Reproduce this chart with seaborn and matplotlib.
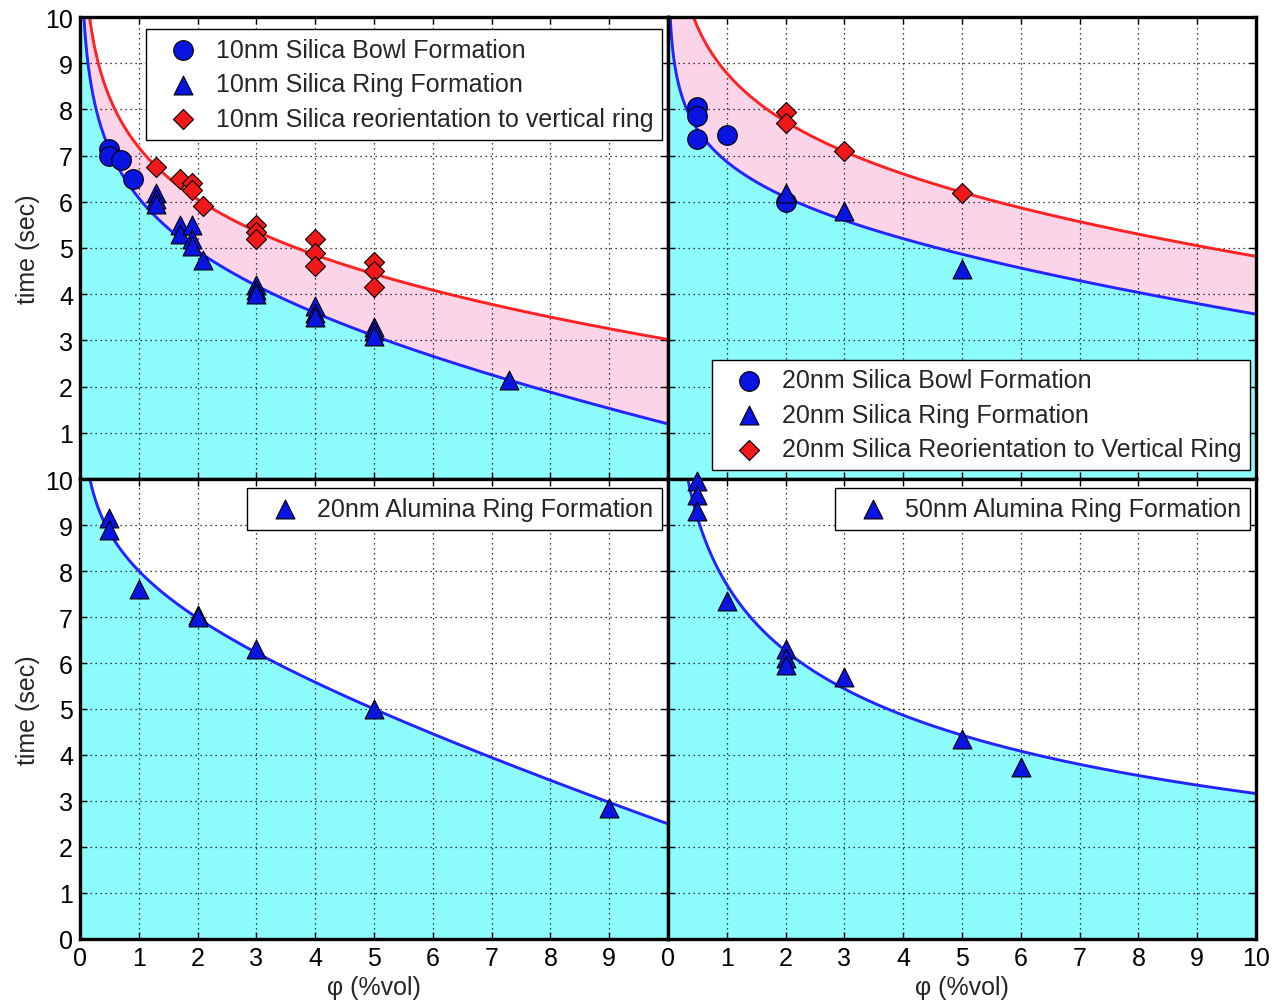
import numpy as np
import pandas as pd
import matplotlib
matplotlib.use("Agg")
import matplotlib.pyplot as plt
import seaborn as sns

# ---------------------------------------------------------------- data
# 10 nm silica
S10_BOWL_PHI = [0.5, 0.5, 0.7, 0.9]
S10_BOWL_T = [7.15, 7.0, 6.9, 6.5]
S10_RING_PHI = [1.3, 1.3, 1.3, 1.7, 1.7, 1.9, 1.9, 1.9, 2.1,
                3, 3, 3, 4, 4, 4, 5, 5, 5, 7.3]
S10_RING_T = [6.2, 6.05, 5.95, 5.5, 5.3, 5.5, 5.2, 5.05, 4.75,
              4.2, 4.1, 4.0, 3.75, 3.6, 3.5, 3.3, 3.2, 3.1, 2.15]
S10_REOR_PHI = [1.3, 1.7, 1.9, 1.9, 2.1, 3, 3, 3, 4, 4, 4, 5, 5, 5]
S10_REOR_T = [6.75, 6.5, 6.4, 6.25, 5.9, 5.5, 5.35, 5.2,
              5.2, 4.9, 4.6, 4.7, 4.5, 4.15]

# 20 nm silica
S20_BOWL_PHI = [0.5, 0.5, 0.5, 1, 2]
S20_BOWL_T = [8.05, 7.85, 7.35, 7.45, 6.0]
S20_RING_PHI = [2, 3, 5]
S20_RING_T = [6.2, 5.8, 4.55]
S20_REOR_PHI = [2, 2, 3, 5]
S20_REOR_T = [7.95, 7.7, 7.1, 6.2]

# alumina
A20_RING_PHI = [0.5, 0.5, 1, 2, 2, 3, 5, 9]
A20_RING_T = [9.15, 8.9, 7.6, 7.05, 7.0, 6.3, 5.0, 2.85]
A50_RING_PHI = [0.5, 0.5, 0.5, 1, 2, 2, 2, 3, 5, 6]
A50_RING_T = [9.95, 9.65, 9.3, 7.35, 6.3, 6.1, 5.95, 5.7, 4.35, 3.75]

# fitted curves: t = a - b*ln(phi) - c*phi
S10_RING_FIT = (6.27, 1.38, 0.19)
S10_REOR_FIT = (7.25, 1.52, 0.073)
S20_RING_FIT = (7.0, 0.913, 0.133)
S20_REOR_FIT = (8.87, 1.39, 0.085)
A20_RING_FIT = (8.37, 0.95, 0.368)
A50_RING_FIT = (7.66, 2.14, -0.043)

TICKS = list(range(0, 11))

# ---------------------------------------------------------------- style
sns.set_style("ticks")
plt.rcParams["font.family"] = ["Liberation Sans", "DejaVu Sans"]
plt.rcParams["font.size"] = 18

CYAN = "#8dfcfc"
PINK = "#fcd4e8"
LINE_BLUE = "#2424ff"
LINE_RED = "#ff2222"
MK_BLUE = "#0a14e0"
MK_RED = "#f01818"


def fit_curve(phi, coeffs):
    a, b, c = coeffs
    return a - b * np.log(phi) - c * phi


PHI = np.concatenate([np.geomspace(1e-3, 0.5, 300), np.linspace(0.5, 10, 500)[1:]])

fig = plt.figure(figsize=(12.83, 10.04), dpi=100)
W, H = 1283.0, 1004.0


def add_panel(x0, y0, x1, y1):
    return fig.add_axes([x0 / W, 1 - y1 / H, (x1 - x0) / W, (y1 - y0) / H])


ax_tl = add_panel(80, 18, 668, 480)
ax_tr = add_panel(668, 18, 1256, 480)
ax_bl = add_panel(80, 480, 668, 940)
ax_br = add_panel(668, 480, 1256, 940)

panels = [
    dict(ax=ax_tl, lower=S10_RING_FIT, upper=S10_REOR_FIT,
         series=[(S10_BOWL_PHI, S10_BOWL_T, "o", MK_BLUE, "10nm Silica Bowl Formation"),
                 (S10_RING_PHI, S10_RING_T, "^", MK_BLUE, "10nm Silica Ring Formation"),
                 (S10_REOR_PHI, S10_REOR_T, "D", MK_RED, "10nm Silica reorientation to vertical ring")],
         loc="upper right", anchor=(0.990, 0.974)),
    dict(ax=ax_tr, lower=S20_RING_FIT, upper=S20_REOR_FIT,
         series=[(S20_BOWL_PHI, S20_BOWL_T, "o", MK_BLUE, "20nm Silica Bowl Formation"),
                 (S20_RING_PHI, S20_RING_T, "^", MK_BLUE, "20nm Silica Ring Formation"),
                 (S20_REOR_PHI, S20_REOR_T, "D", MK_RED, "20nm Silica Reorientation to Vertical Ring")],
         loc="lower right", anchor=(0.990, 0.019)),
    dict(ax=ax_bl, lower=A20_RING_FIT, upper=None,
         series=[(A20_RING_PHI, A20_RING_T, "^", MK_BLUE, "20nm Alumina Ring Formation")],
         loc="upper right", anchor=(0.990, 0.980)),
    dict(ax=ax_br, lower=A50_RING_FIT, upper=None,
         series=[(A50_RING_PHI, A50_RING_T, "^", MK_BLUE, "50nm Alumina Ring Formation")],
         loc="upper right", anchor=(0.990, 0.980)),
]

MARKER_SIZE = {"o": 200, "^": 185, "D": 105}

for p in panels:
    ax = p["ax"]
    lower = fit_curve(PHI, p["lower"])
    lower_c = np.minimum(lower, 10.5)
    ax.fill_between(PHI, 0, lower_c, color=CYAN, lw=0, zorder=0.5)
    if p["upper"] is not None:
        upper = fit_curve(PHI, p["upper"])
        upper_c = np.minimum(upper, 10.5)
        ax.fill_between(PHI, lower_c, upper_c, color=PINK, lw=0, zorder=0.5)
        sns.lineplot(x=PHI, y=upper, color=LINE_RED, lw=2.1, estimator=None,
                     sort=False, ax=ax, zorder=2)
    sns.lineplot(x=PHI, y=lower, color=LINE_BLUE, lw=2.1, estimator=None,
                 sort=False, ax=ax, zorder=2)

    for xs, ys, mk, col, lab in p["series"]:
        df = pd.DataFrame({"phi": xs, "t": ys})
        sns.scatterplot(data=df, x="phi", y="t", marker=mk, s=MARKER_SIZE[mk],
                        color=col, edgecolor="black", linewidth=0.8,
                        label=lab, ax=ax, zorder=3, clip_on=False)

    ax.set_xlim(0, 10)
    ax.set_ylim(0, 10)
    ax.set_xticks(TICKS)
    ax.set_yticks(TICKS)
    ax.grid(True, color="black", linestyle=(0, (1, 3)), linewidth=0.9)
    ax.tick_params(direction="in", top=True, right=True, length=5, width=1,
                   labelsize=18, pad=5, colors="black")
    for sp in ax.spines.values():
        sp.set_linewidth(2.4)
        sp.set_color("black")
    ax.set_xlabel("")
    ax.set_ylabel("")

    leg = ax.legend(loc=p["loc"], bbox_to_anchor=p["anchor"], borderaxespad=0,
                    frameon=True, fancybox=False, framealpha=1, edgecolor="black",
                    fontsize=18, borderpad=0.35, labelspacing=0.42,
                    handlelength=2.3, handletextpad=0.15)
    leg.get_frame().set_linewidth(1.0)
    leg.set_zorder(5)

# tick labels: only on outer edges
for ax in (ax_tl, ax_tr):
    ax.tick_params(labelbottom=False)
for ax in (ax_tr, ax_br):
    ax.tick_params(labelleft=False)
ax_tl.set_yticklabels([""] + [str(t) for t in TICKS[1:]])
ax_bl.set_xticklabels([str(t) for t in TICKS[:-1]] + [""])

for ax in (ax_tl, ax_bl):
    ax.set_ylabel("time (sec)", fontsize=18, labelpad=4)
for ax in (ax_bl, ax_br):
    ax.set_xlabel("φ (%vol)", fontsize=18, labelpad=4)

fig.savefig("out.png", dpi=100, facecolor="white")
